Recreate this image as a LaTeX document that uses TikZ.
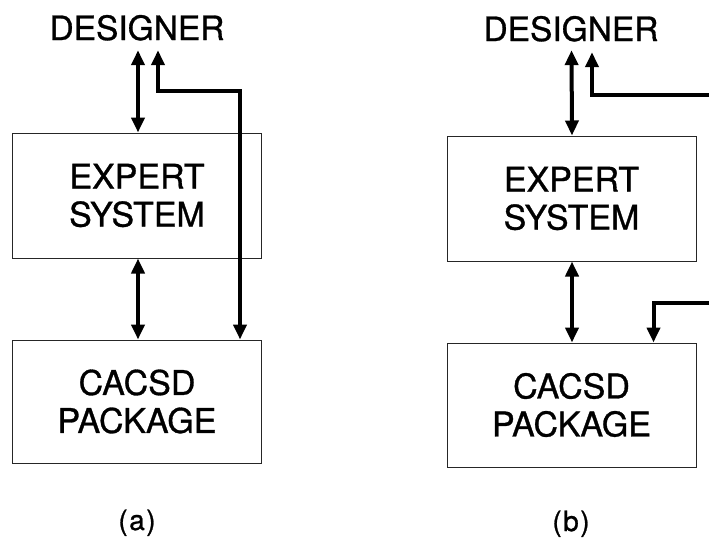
\documentclass[tikz,border=0pt]{standalone}
\usepackage{fontspec}
\setmainfont{TeX Gyre Heros}[FakeBold=0.9]
\usetikzlibrary{arrows.meta}
\begin{document}
\begin{tikzpicture}[x=1pt,y=-1pt,
  lbl/.style={font=\fontsize{33.5}{38}\selectfont, inner sep=0pt, text height=23pt, text depth=0pt},
  figlabel/.style={font=\fontsize{28}{32}\selectfont, inner sep=0pt},
  blk/.style={draw=black!85, line width=1pt, minimum width=249pt, align=center,
    font=\fontsize{34}{38}\selectfont, inner sep=0pt},
  link/.style={line width=4pt, line join=miter,
    arrows={-Triangle[length=15pt,width=13pt]}},
  both/.style={link, arrows={Triangle[length=15pt,width=13pt]-Triangle[length=15pt,width=13pt]}}]
\useasboundingbox (0,0) rectangle (709,542);

% ---- (a) ----
\node[lbl, anchor=base] (desA) at (137,40) {DESIGNER};
\node[blk, minimum height=125pt] (expA) at (137,195.5) {EXPERT\\SYSTEM};
\node[blk, minimum height=123pt] (cacA) at (137,401.5) {CACSD\\PACKAGE};
\node[figlabel, anchor=base] (capA) at (137,530) {(\kern1.5pt a\kern1.5pt)};

\draw[both] ([xshift=1pt,yshift=-10pt]desA.south) -- ([xshift=1pt]expA.north);
\draw[both] ([xshift=1pt]expA.south) -- ([xshift=1pt]cacA.north);
\draw[both] ([xshift=103pt]cacA.north) -- ++(0,-249) -| ([xshift=21pt,yshift=-10pt]desA.south);

% ---- (b) ----
\node[lbl, anchor=base] (desB) at (571,41) {DESIGNER};
\node[blk, minimum height=125pt] (expB) at (571.5,198.5) {EXPERT\\SYSTEM};
\node[blk, minimum height=124pt] (cacB) at (571.5,405) {CACSD\\PACKAGE};
\node[figlabel, anchor=base] (capB) at (571,531) {(\kern1.5pt b\kern1.5pt)};

\coordinate (outB) at (712,95);
\coordinate (inB) at (712,303);

\draw[both] ([xshift=0.5pt,yshift=-9pt]desB.south) -- ([xshift=0.5pt]expB.north);
\draw[both] ([xshift=0.5pt]expB.south) -- ([xshift=0.5pt]cacB.north);
\draw[link] (outB) -| ([xshift=21pt,yshift=-11pt]desB.south);
\draw[link] (inB) -| ([xshift=82pt]cacB.north);
\end{tikzpicture}
\end{document}
